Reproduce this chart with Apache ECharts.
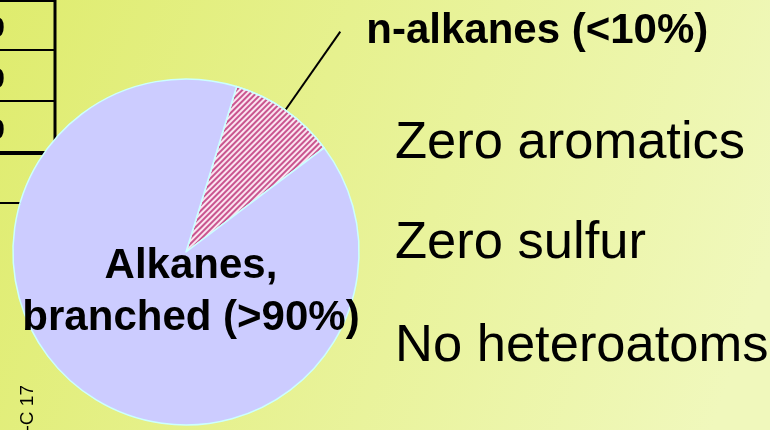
<!DOCTYPE html>
<html lang="en">
<head>
    <meta charset="UTF-8">
    <title>Alkane_Composition</title>
    <script src="https://cdn.jsdelivr.net/npm/echarts@6/dist/echarts.min.js"></script>
    <style>
        body { margin: 0; }
        #main { width: 770px; height: 430px; }
    </style>
</head>
<body>
<div id="main"></div>
<script>
    // data
    var categories = ['n-alkanes (<10%)', 'Alkanes,\nbranched (>90%)'];
    var shares = [10, 90];
    var notes = ['Zero aromatics', 'Zero sulfur', 'No heteroatoms'];
    var noteY = [144, 244, 347];
    var tableRows = ['0', '0', '0'];

    var myChart = echarts.init(document.getElementById('main'));

    var graphics = [];
    // table fragment at top-left, behind the pie
    var hLines = [[1, 2], [50, 2], [101, 2], [153, 4], [203, 2]];
    hLines.forEach(function (h) {
        graphics.push({
            type: 'line', shape: {x1: 0, y1: h[0], x2: 56, y2: h[0]},
            style: {stroke: '#000', lineWidth: h[1]}
        });
    });
    graphics.push({
        type: 'line', shape: {x1: 55, y1: 0, x2: 55, y2: 152},
        style: {stroke: '#000', lineWidth: 3}
    });
    tableRows.forEach(function (t, i) {
        graphics.push({
            type: 'text', x: 5, y: 29 + i * 51,
            style: {text: t, font: 'bold 30px "Liberation Sans"', fill: '#000', align: 'right', verticalAlign: 'middle'}
        });
    });
    notes.forEach(function (t, i) {
        graphics.push({
            type: 'text', x: 395, y: noteY[i],
            style: {text: t, font: '52.5px "Liberation Sans"', fill: '#000', align: 'left', verticalAlign: 'middle'}
        });
    });
    graphics.push({
        type: 'text', x: 28, y: 385, rotation: Math.PI / 2,
        style: {text: '-C 17', font: '19px "Liberation Sans"', fill: '#000', align: 'right', verticalAlign: 'middle'}
    });

    var option = {
        animation: false,
        backgroundColor: {
            type: 'linear', x: 0, y: 0, x2: 1, y2: 0.6,
            colorStops: [
                {offset: 0, color: '#dfec6e'},
                {offset: 1, color: '#f0f8bc'}
            ]
        },
        graphic: graphics,
        series: [
            {
                type: 'pie',
                center: [186, 252],
                radius: 173,
                startAngle: 73,
                avoidLabelOverlap: false,
                silent: true,
                itemStyle: {borderColor: '#ccffff', borderWidth: 1.5},
                label: {
                    formatter: '{b}',
                    color: '#000',
                    fontFamily: 'Liberation Sans',
                    fontWeight: 'bold'
                },
                // push the big label down under the wedge tip
                labelLayout: function (params) {
                    if (params.dataIndex === 1) {
                        return {dx: 5, dy: 40};
                    }
                    return {};
                },
                data: [
                    {
                        name: categories[0], value: shares[0],
                        itemStyle: {
                            color: '#c9558f',
                            decal: {
                                symbol: 'rect', symbolSize: 1,
                                dashArrayX: [1, 0], dashArrayY: [1.8, 1.8],
                                rotation: -Math.PI / 4,
                                color: '#fbe4f0'
                            }
                        },
                        label: {
                            position: 'outside', fontSize: 42,
                            distanceToLabelLine: 5,
                            padding: [0, 0, 18, 21]
                        },
                        labelLine: {
                            show: true, length: 96, length2: 0,
                            lineStyle: {color: '#000', width: 2}
                        }
                    },
                    {
                        name: categories[1], value: shares[1],
                        itemStyle: {color: '#ccccff'},
                        label: {
                            position: 'center', fontSize: 42, lineHeight: 52
                        },
                        labelLine: {show: false}
                    }
                ]
            }
        ]
    };

    myChart.setOption(option);
</script>
</body>
</html>
